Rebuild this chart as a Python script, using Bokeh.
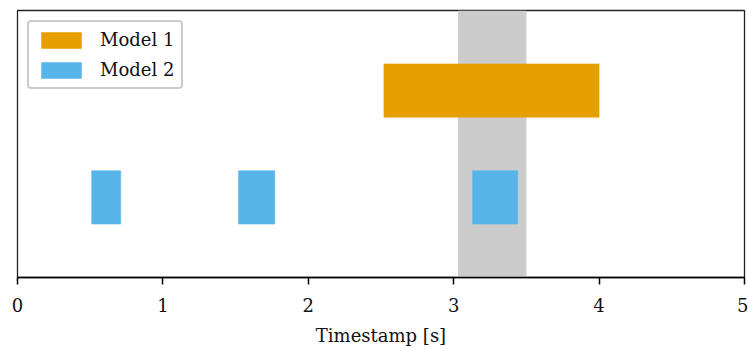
from bokeh.plotting import figure
from bokeh.models import BoxAnnotation, Legend, LegendItem, ColumnDataSource, FixedTicker
from bokeh.embed import file_html
from bokeh.resources import INLINE

# Data
models = ["Model 1", "Model 2"]
model_rows = [1, 0]
colors = ["#E69F00", "#56B4E9"]
m1_starts = [2.52]
m1_ends = [4.0]
m2_starts = [0.51, 1.52, 3.13]
m2_ends = [0.71, 1.77, 3.44]
highlight = (3.03, 3.5)
x_ticks = [0, 1, 2, 3, 4, 5]

FONT = "DejaVu Serif"
FS = "18px"

p = figure(width=748, height=349, x_range=(0, 5), y_range=(-0.75, 1.75),
           output_backend="svg", toolbar_location=None,
           min_border_left=17, min_border_right=4, min_border_top=10, min_border_bottom=72)

span = BoxAnnotation(left=highlight[0], right=highlight[1], fill_color="#cccccc",
                     fill_alpha=1.0, line_color=None, level="underlay")
p.add_layout(span)

renderers = []
for starts, ends, row, col in zip([m1_starts, m2_starts], [m1_ends, m2_ends], model_rows, colors):
    src = ColumnDataSource(dict(left=starts, right=ends, y=[row] * len(starts)))
    r = p.hbar(y="y", left="left", right="right", height=0.5, source=src,
               fill_color=col, line_color=col, line_width=0.5)
    renderers.append(r)

legend = Legend(items=[LegendItem(label=m, renderers=[r]) for m, r in zip(models, renderers)],
                location="top_left", margin=10, padding=7, spacing=9,
                glyph_width=50, glyph_height=20, label_height=20, label_standoff=14,
                label_text_font=FONT, label_text_font_size=FS, label_text_color="#111111",
                border_line_color="#cccccc", border_line_width=2, border_line_alpha=1.0,
                border_radius=4, background_fill_alpha=1.0)
p.add_layout(legend)

p.yaxis.visible = False
p.xgrid.visible = False
p.ygrid.visible = False
p.xaxis.ticker = FixedTicker(ticks=x_ticks)
p.xaxis.minor_tick_line_color = None
p.xaxis.major_tick_in = 0
p.xaxis.major_tick_out = 7
p.xaxis.major_tick_line_width = 1.5
p.xaxis.axis_line_width = 1.3
p.xaxis.major_label_text_font = FONT
p.xaxis.major_label_text_font_size = FS
p.xaxis.major_label_text_color = "#111111"
p.xaxis.major_label_standoff = 13
p.xaxis.axis_label = "Timestamp [s]"
p.xaxis.axis_label_text_font = FONT
p.xaxis.axis_label_text_font_size = FS
p.xaxis.axis_label_text_font_style = "normal"
p.xaxis.axis_label_text_color = "#111111"
p.xaxis.axis_label_standoff = 10
p.outline_line_color = "#222222"
p.outline_line_width = 1.3
p.outline_line_alpha = 1.0

open("out.html", "w").write(file_html(p, INLINE))
